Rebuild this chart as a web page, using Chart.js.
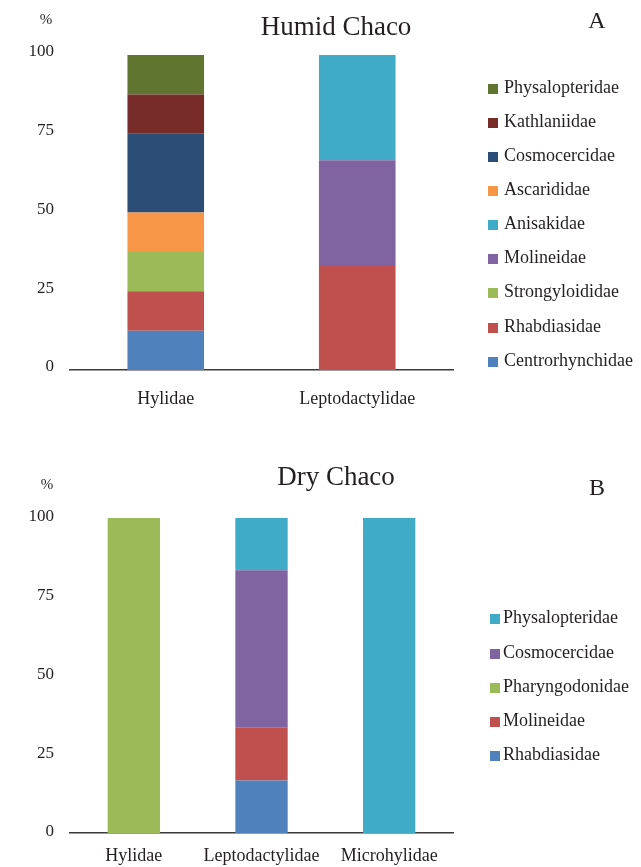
<!DOCTYPE html>
<html>
<head>
<meta charset="utf-8">
<script src="https://cdn.jsdelivr.net/npm/chart.js@4.4.1/dist/chart.umd.min.js"></script>
<style>
body { margin: 0; background: #fff; font-family: "Liberation Serif", serif; color: #231f20; }
#wrap { position: relative; width: 641px; height: 867px; overflow: hidden; }
canvas { position: absolute; left: 0; }
.txt { position: absolute; white-space: nowrap; line-height: 1; transform: translate(-50%, -50%); }
.item { position: absolute; height: 0; white-space: nowrap; font-size: 18px; }
.item span.box { position: absolute; width: 10px; height: 10px; top: -4px; left: 0; }
.item span.lab { position: absolute; top: -10px; line-height: 1; }
</style>
</head>
<body>
<div id="wrap">
  <canvas id="humid" width="641" height="430" style="top:0"></canvas>
  <canvas id="dry" width="641" height="437" style="top:430px"></canvas>

  <div class="txt" style="left:46px;top:19px;font-size:15px">%</div>
  <div class="txt" style="left:336px;top:26px;font-size:27px">Humid Chaco</div>
  <div class="txt" style="left:597px;top:20px;font-size:24px">A</div>

  <div class="txt" style="left:47px;top:484px;font-size:15px">%</div>
  <div class="txt" style="left:336px;top:476px;font-size:27px">Dry Chaco</div>
  <div class="txt" style="left:597px;top:487px;font-size:24px">B</div>

  <div id="legendA"></div>
  <div id="legendB"></div>
</div>

<script>
// Panel A - Humid Chaco
const humidHosts = ['Hylidae', 'Leptodactylidae'];
const humidFamilies = ['Centrorhynchidae', 'Rhabdiasidae', 'Strongyloididae', 'Molineidae', 'Anisakidae',
    'Ascarididae', 'Cosmocercidae', 'Kathlaniidae', 'Physalopteridae'];
const humidValues = [
    [12.5, 0],
    [12.5, 33.3],
    [12.5, 0],
    [0, 33.3],
    [0, 33.4],
    [12.5, 0],
    [25, 0],
    [12.5, 0],
    [12.5, 0]
];
const humidColors = ['#4f81bd', '#c0504d', '#9bbb59', '#8064a2', '#3fabc6',
    '#f79646', '#2c4d75', '#772c2a', '#5f7530'];
const humidLegendOrder = ['Physalopteridae', 'Kathlaniidae', 'Cosmocercidae', 'Ascarididae', 'Anisakidae',
    'Molineidae', 'Strongyloididae', 'Rhabdiasidae', 'Centrorhynchidae'];

// Panel B - Dry Chaco
const dryHosts = ['Hylidae', 'Leptodactylidae', 'Microhylidae'];
const dryFamilies = ['Rhabdiasidae', 'Molineidae', 'Pharyngodonidae', 'Cosmocercidae', 'Physalopteridae'];
const dryValues = [
    [0, 16.7, 0],
    [0, 16.7, 0],
    [100, 0, 0],
    [0, 50, 0],
    [0, 16.6, 100]
];
const dryColors = ['#4f81bd', '#c0504d', '#9bbb59', '#8064a2', '#3fabc6'];
const dryLegendOrder = ['Physalopteridae', 'Cosmocercidae', 'Pharyngodonidae', 'Molineidae', 'Rhabdiasidae'];

const yTicks = [0, 25, 50, 75, 100];

const serif = '"Liberation Serif", serif';
const ink = '#231f20';

function makeChart(id, hosts, families, values, colors, opts) {
    const datasets = families.map((name, i) => ({
        label: name,
        data: values[i],
        backgroundColor: colors[i],
        borderWidth: 0,
        categoryPercentage: 1,
        barPercentage: opts.barPct
    }));
    return new Chart(document.getElementById(id), {
        type: 'bar',
        data: { labels: hosts, datasets: datasets },
        options: {
            responsive: false,
            animation: false,
            layout: { padding: { top: opts.top, right: 188, left: 0, bottom: 0 } },
            plugins: { legend: { display: false }, tooltip: { enabled: false } },
            scales: {
                x: {
                    stacked: true,
                    grid: { display: false, drawTicks: false },
                    border: { display: true, color: '#3a3a3a', width: 1.5 },
                    ticks: { color: ink, font: { family: serif, size: 18 }, padding: opts.xPad },
                    afterFit: s => { s.height = opts.xHeight; }
                },
                y: {
                    stacked: true,
                    min: 0,
                    max: 100,
                    afterBuildTicks: s => { s.ticks = yTicks.map(v => ({ value: v })); },
                    grid: { display: false, drawTicks: false },
                    border: { display: false },
                    ticks: { color: ink, font: { family: serif, size: 17 }, padding: 16, labelOffset: opts.yOff },
                    afterFit: s => { s.width = 70; }
                }
            }
        }
    });
}

function makeLegend(id, order, families, colors, left, textGap, ys) {
    const el = document.getElementById(id);
    order.forEach((name, i) => {
        const c = colors[families.indexOf(name)];
        const item = document.createElement('div');
        item.className = 'item';
        item.style.left = left + 'px';
        item.style.top = ys[i] + 'px';
        item.innerHTML = '<span class="box" style="background:' + c + '"></span>' +
            '<span class="lab" style="left:' + textGap + 'px">' + name + '</span>';
        el.appendChild(item);
    });
}

makeChart('humid', humidHosts, humidFamilies, humidValues, humidColors,
    { top: 55, xHeight: 60, xPad: 18, yOff: -3, barPct: 0.4 });
makeChart('dry', dryHosts, dryFamilies, dryValues, dryColors,
    { top: 88, xHeight: 34, xPad: 12, yOff: -1, barPct: 0.41 });

makeLegend('legendA', humidLegendOrder, humidFamilies, humidColors, 488, 16,
    [88, 122, 156, 190, 224, 258, 292, 327, 361]);
makeLegend('legendB', dryLegendOrder, dryFamilies, dryColors, 490, 13,
    [618, 653, 687, 721, 755]);
</script>
</body>
</html>
